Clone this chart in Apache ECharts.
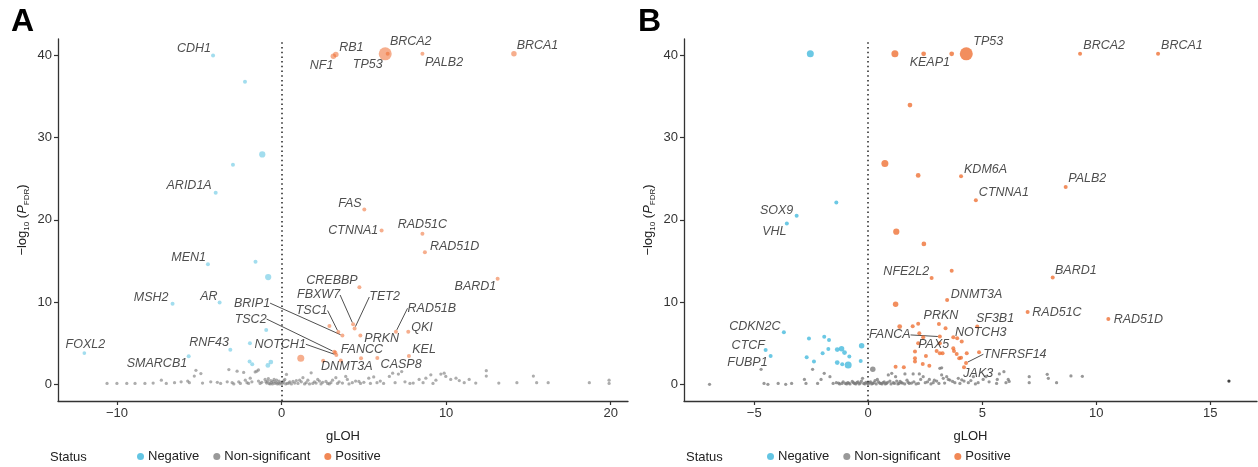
<!DOCTYPE html>
<html><head><meta charset="utf-8">
<script src="https://cdn.jsdelivr.net/npm/echarts@6/dist/echarts.min.js"></script>
<style>html,body{margin:0;padding:0;background:#fff}#c{width:1258px;height:467px}</style>
</head><body><div id="c"></div>
<script>
// ---------- data ----------
const statusNames = ['Negative', 'Non-significant', 'Positive'];
const xTicksA = [-10, 0, 10, 20];
const xTicksB = [-5, 0, 5, 10, 15];
const yTicks = [0, 10, 20, 30, 40];

// rows: [gLOH, -log10(P_FDR), weight, gene]
const A_negative = [
  [-4.16, 40.0, 1, 'CDH1'], [-2.22, 36.8, 1], [-1.17, 27.96, 2.5], [-2.95, 26.7, 1],
  [-4.0, 23.3, 1, 'ARID1A'], [-4.47, 14.6, 1, 'MEN1'], [-1.58, 14.9, 1], [-0.81, 13.05, 2.5],
  [-6.62, 9.8, 1, 'MSH2'], [-3.76, 9.95, 1, 'AR'], [-0.93, 6.6, 1], [-11.98, 3.8, 0.8, 'FOXL2'],
  [-3.11, 4.2, 1, 'RNF43'], [-5.64, 3.4, 1, 'SMARCB1'], [-1.92, 5.0, 1], [-1.94, 2.76, 1],
  [-1.78, 2.44, 1], [-0.83, 2.3, 1.5], [-0.65, 2.7, 1.5]
];
const A_positive = [
  [3.3, 40.1, 2, 'RB1'], [3.15, 39.9, 2, 'NF1'], [6.3, 40.2, 7, 'TP53'], [6.45, 40.2, 1, 'BRCA2'],
  [8.56, 40.2, 1, 'PALB2'], [14.12, 40.2, 2, 'BRCA1'], [5.03, 21.25, 1, 'FAS'], [6.08, 18.7, 1, 'CTNNA1'],
  [8.56, 18.3, 1, 'RAD51C'], [8.71, 16.05, 1, 'RAD51D'], [13.13, 12.84, 1, 'BARD1'], [4.73, 11.8, 1, 'CREBBP'],
  [4.35, 7.3, 1, 'FBXW7'], [4.44, 6.8, 1, 'TET2'], [3.45, 6.35, 1, 'TSC1'], [2.91, 7.1, 1],
  [3.7, 5.93, 1, 'BRIP1'], [4.79, 5.93, 1, 'PRKN'], [6.95, 6.4, 1, 'RAD51B'], [7.7, 6.4, 1, 'QKI'],
  [3.27, 3.86, 1, 'FANCC'], [3.2, 3.95, 1, 'TSC2'], [3.33, 3.57, 1, 'NOTCH1'], [3.6, 2.9, 1, 'DNMT3A'],
  [2.53, 2.88, 1], [4.83, 3.17, 1], [5.82, 3.2, 1, 'CASP8'], [7.74, 3.45, 1, 'KEL'], [1.17, 3.17, 3]
];
const A_nonsig = [
  [-10.6,0.1],[-10,0.1],[-9.4,0.1],[-8.9,0.1],[-8.3,0.1],[-7.8,0.15],[-7.3,0.5],[-7,0.1],[-6.5,0.2],[-6.1,0.3],
  [-5.6,0.2],[-5.7,0.4],[-5.3,1.0],[-5.2,1.7],[-4.9,1.3],[-4.8,0.15],[-4.3,0.3],[-3.9,0.25],[-3.7,0.1],[-3.3,0.3],
  [-3.2,1.8],[-3.0,0.2],[-2.9,0.05],[-2.7,1.6],[-2.6,0.3],[-2.5,0.1],[-2.3,1.45],[-2.2,0.5],[-2.1,0.2],[-2.0,0.1],
  [-1.9,0.75],[-1.8,0.3],[-1.6,1.5],[-1.5,1.6],[-1.4,1.75],[-1.4,0.4],[-1.3,0.1],[-1.2,0.25],[-1.0,0.6],[-0.9,0.15],
  [-0.85,0.4],[-0.7,0.05],[-0.6,0.2],[-0.5,0.35],[-0.4,0.1],[-0.3,0.5],[-0.2,0.15],[-0.1,0.05],[0.1,0.25],[0.2,0.6],
  [0.3,1.2],[0.35,0.1],[0.5,0.3],[0.6,0.05],[0.8,0.15],[0.9,0.45],[1.0,0.1],[1.2,0.3],[1.3,0.8],[1.4,0.05],
  [1.5,0.2],[1.6,0.5],[1.8,1.4],[1.9,0.1],[2.0,0.3],[2.1,0.15],[2.2,0.6],[2.4,0.05],[2.5,0.25],[2.7,0.35],
  [2.8,0.1],[3.0,0.2],[3.1,0.5],[3.3,0.8],[3.4,0.1],[3.5,0.3],[3.7,0.15],[3.9,0.95],[4.0,0.6],[4.1,0.05],
  [4.3,0.2],[4.5,0.4],[4.7,0.35],[4.8,0.1],[5.0,0.25],[5.3,0.75],[5.4,0.1],[5.6,0.9],[5.8,0.2],[6.0,0.4],
  [6.2,0.1],[6.55,0.95],[6.75,1.35],[6.9,0.2],[7.1,1.25],[7.3,1.55],[7.5,0.3],[7.8,0.1],[8.0,0.15],[8.36,0.6],
  [8.6,0.2],[8.77,0.75],[9.07,1.15],[9.2,0.1],[9.38,0.5],[9.68,1.25],[9.88,1.35],[9.98,0.95],[10.28,0.6],[10.6,0.75],
  [10.8,0.45],[11.1,0.2],[11.4,0.6],[11.8,0.15],[12.44,1.66],[12.44,1.0],[13.2,0.15],[14.3,0.2],[15.3,1.0],[15.5,0.2],
  [16.2,0.2],[18.7,0.2],[19.9,0.5],[19.9,0.1],
  [-0.95,0.3],[-0.8,0.7],[-0.75,0.1],[-0.65,0.45],[-0.55,0.05],[-0.45,0.6],[-0.35,0.25],[-0.25,0.05],[-0.15,0.4],[-0.05,0.2],
  [0.05,0.1],[0.15,0.45],[0.25,0.05],[0.45,0.15],[0.7,0.35],[1.1,0.5],[1.7,0.05],[2.3,0.4],[2.9,0.05]
];

const B_negative = [
  [-2.54, 40.2, 3], [-1.40, 22.1, 1], [-3.14, 20.5, 1, 'SOX9'], [-3.57, 19.55, 1, 'VHL'],
  [-3.70, 6.34, 1, 'CDKN2C'], [-4.5, 4.18, 1, 'CTCF'], [-4.28, 3.45, 1, 'FUBP1'], [-2.6, 5.56, 1],
  [-1.93, 5.77, 1], [-1.72, 5.4, 1], [-1.75, 4.3, 1], [-2.0, 3.78, 1], [-2.7, 3.29, 1], [-2.38, 2.76, 1],
  [-1.36, 4.22, 1.5], [-1.17, 4.34, 2], [-1.04, 3.86, 1.5], [-0.83, 3.37, 1], [-1.36, 2.64, 1.5],
  [-1.14, 2.44, 1], [-0.88, 2.35, 3], [-0.29, 4.7, 2], [-0.33, 2.84, 1]
];
const B_positive = [
  [1.17, 40.2, 3], [2.43, 40.2, 1.5], [3.66, 40.2, 1.5, 'KEAP1'], [4.30, 40.2, 7, 'TP53'],
  [9.29, 40.2, 1, 'BRCA2'], [12.71, 40.2, 1, 'BRCA1'], [1.83, 33.97, 1.5], [0.73, 26.87, 3],
  [2.19, 25.4, 1.5], [4.07, 25.3, 1, 'KDM6A'], [4.72, 22.4, 1, 'CTNNA1'], [8.66, 24.0, 1, 'PALB2'],
  [1.23, 18.57, 2.5], [2.44, 17.07, 1.5], [2.78, 12.93, 1, 'NFE2L2'], [3.66, 13.8, 1],
  [3.46, 10.25, 1, 'DNMT3A'], [1.2, 9.75, 2], [8.09, 13.0, 1, 'BARD1'], [6.99, 8.78, 1, 'RAD51C'],
  [10.53, 7.93, 1, 'RAD51D'], [1.38, 7.03, 1.5], [1.95, 7.05, 1], [2.19, 7.38, 1], [3.1, 7.35, 1, 'PRKN'],
  [3.39, 6.83, 1], [4.78, 7.03, 1, 'SF3B1'], [2.24, 6.2, 1], [3.73, 5.73, 1, 'NOTCH3'], [3.9, 5.6, 1],
  [4.1, 5.2, 1], [2.41, 5.73, 1], [2.19, 5.0, 1, 'PAX5'], [3.14, 5.8, 1, 'FANCA'], [3.14, 5.0, 1],
  [2.05, 3.98, 1], [2.53, 3.45, 1], [3.0, 4.06, 1], [3.14, 3.78, 1], [3.26, 3.78, 1], [3.76, 4.06, 1],
  [3.99, 3.17, 1], [4.07, 3.24, 1], [4.32, 3.78, 1], [4.86, 3.9, 1], [2.05, 2.76, 1], [2.39, 2.48, 1],
  [2.68, 2.27, 1], [1.56, 2.07, 1], [1.2, 2.15, 1], [4.2, 2.07, 1, 'JAK3'], [4.29, 2.6, 1, 'TNFRSF14'],
  [2.05, 3.17, 1], [3.73, 4.39, 1], [3.88, 3.7, 1]
];
const B_nonsig = [
  [-6.96,0],[-4.7,1.83],[-4.57,0.1],[-4.4,0],[-3.95,0.1],[-3.62,0],[-3.36,0.1],[-2.8,0.6],[-2.73,0.1],[-2.44,1.83],
  [-2.22,0.1],[-2.07,0.6],[-1.93,1.34],[-1.68,0.93],[-1.54,0.1],[-1.4,0.2],[-1.25,0.05],[-1.1,0.3],[-1.0,0.1],[-0.9,0.2],
  [-0.8,0.05],[-0.7,0.35],[-0.6,0.1],[-0.5,0.2],[-0.4,0.05],[-0.3,0.4],[-0.25,0.73],[-0.2,0.1],[-0.1,0.25],[0,0.05],
  [0.1,0.3],[0.2,0.1],[0.3,0.45],[0.4,0.6],[0.5,0.15],[0.6,0.05],[0.7,0.3],[0.8,0.1],[0.88,1.14],[0.95,0.4],
  [1.03,1.34],[1.1,0.2],[1.2,0.93],[1.3,0.05],[1.4,0.35],[1.5,0.15],[1.61,1.26],[1.7,0.5],[1.8,0.1],[1.97,1.26],
  [2.0,0.3],[2.1,0.05],[2.24,1.26],[2.3,0.6],[2.41,0.93],[2.5,0.2],[2.68,0.6],[2.75,0.05],[2.85,0.2],[3.0,0.4],
  [3.14,1.95],[3.22,1.14],[3.22,2.0],[3.29,0.73],[3.44,0.93],[3.51,0.6],[3.58,0.52],[3.8,0.2],[3.95,0.73],[4.02,0.1],
  [4.2,0.4],[4.39,0.2],[4.61,0.93],[4.82,0.2],[5.04,0.6],[5.16,0.93],[5.63,0.1],[5.66,0.6],[5.75,1.26],[5.95,1.54],
  [6.04,0.2],[6.14,0.6],[6.18,0.35],[7.06,0.93],[7.06,0.2],[7.85,1.22],[7.9,0.73],[8.26,0.2],[8.89,1.02],[9.39,0.98],
  [-1.3,0.15],[-1.15,0.1],[-0.95,0.05],[-0.85,0.15],[-0.65,0.2],[-0.55,0.05],[-0.45,0.3],[-0.35,0.15],[-0.15,0.05],[-0.05,0.15],
  [0.05,0.2],[0.15,0.05],[0.25,0.2],[0.35,0.05],[0.45,0.3],[0.55,0.1],[0.65,0.2],[0.75,0.05],[0.85,0.25],[1.0,0.05],
  [1.15,0.1],[1.25,0.4],[1.35,0.1],[1.45,0.2],[1.6,0.05],[1.75,0.25],[1.9,0.15],[2.2,0.1],[2.6,0.3],[2.9,0.5],
  [3.1,0.1],[3.35,0.15],[3.7,0.35],[4.1,0.55],[4.5,0.45],[4.7,0.05],[5.3,0.3],[0.2,1.83,2]
];
const B_other = [[15.82, 0.4]];

// ---------- presentation ----------
const FONT = '"Liberation Sans", Arial, Helvetica, sans-serif';
const COL = { neg: '#3cb7dc', pos: '#ee6a2c', ns: '#7f7f7f' };
const COL_A = { neg: 'rgba(60,183,220,0.6)', pos: 'rgba(238,106,44,0.68)', ns: 'rgba(127,127,127,0.8)' };
const COL_B = { neg: 'rgba(60,183,220,0.95)', pos: 'rgba(238,106,44,0.95)', ns: 'rgba(120,120,120,0.95)' };
// label placement: [dx, dy, align] from the point centre
const labelPosA = {
  CDH1: [-2, -7, 'right'], ARID1A: [-4, -7, 'right'], MEN1: [-2, -7, 'right'], MSH2: [-4, -6, 'right'],
  AR: [-2, -5.5, 'right'], FOXL2: [1, -9, 'center'], RNF43: [-1.5, -7, 'right'], SMARCB1: [-1.5, 7.5, 'right'],
  RB1: [3.3, -7.6, 'left'], NF1: [0, 9.4, 'right'], BRCA2: [2.2, -12, 'left'], TP53: [-2.6, 11, 'right'],
  PALB2: [2.7, 8.7, 'left'], BRCA1: [2.7, -8.7, 'left'], FAS: [-2.7, -6, 'right'], CTNNA1: [-3.3, 0, 'right'],
  RAD51C: [0, -9.7, 'center'], RAD51D: [5, -6, 'left'], BARD1: [-1.4, 7.7, 'right'], CREBBP: [-1.7, -6.3, 'right'],
  FBXW7: [-13, -29.3, 'right'], TET2: [14.7, -31.4, 'left'], TSC1: [-10.7, -21.6, 'right'],
  BRIP1: [-72.3, -32.4, 'right'], TSC2: [-67.6, -32.8, 'right'], NOTCH1: [-30.5, -10.7, 'right'],
  FANCC: [5.5, -3.3, 'left'], DNMT3A: [6, 6, 'center'], CASP8: [3.3, 6.3, 'left'], PRKN: [4, 2.6, 'left'],
  RAD51B: [11.6, -23.4, 'left'], QKI: [3, -4.4, 'left'], KEL: [3.3, -6.7, 'left']
};
const linesA = ['FBXW7', 'TET2', 'TSC1', 'BRIP1', 'TSC2', 'NOTCH1', 'RAD51B'];
const labelPosB = {
  SOX9: [-3.4, -5.6, 'right'], VHL: [-0.3, 7.7, 'right'], CDKN2C: [-3.3, -5.6, 'right'], CTCF: [-0.7, -4.7, 'right'],
  FUBP1: [-3, 6.7, 'right'], KEAP1: [-1.7, 8.6, 'right'], TP53: [7, -12, 'left'], BRCA2: [3.3, -8.3, 'left'],
  BRCA1: [3, -8.3, 'left'], KDM6A: [3, -6.7, 'left'], CTNNA1: [3, -8, 'left'], PALB2: [2.6, -8, 'left'],
  NFE2L2: [-2.4, -6.6, 'right'], DNMT3A: [3.7, -6, 'left'], BARD1: [2.3, -7, 'left'], RAD51C: [4.7, 0.3, 'left'],
  RAD51D: [5.3, 0, 'left'], PRKN: [2, -8.3, 'center'], SF3B1: [-1.3, -8, 'left'], NOTCH3: [1.7, -4.6, 'left'],
  PAX5: [0, 1, 'left'], FANCA: [-29.3, -1.7, 'right'], TNFRSF14: [17.3, -8.7, 'left'], JAK3: [14.3, 6.2, 'center']
};
const linesB = ['FANCA', 'TNFRSF14'];

function toData(rows, lineSet, w0) {
  return rows.map(function (r) {
    const d = { name: r[3] || '', value: [r[0], r[1], r[2] != null ? r[2] : w0] };
    if (r[3]) {
      d.label = { show: true };
      if (lineSet.indexOf(r[3]) >= 0) d.labelLine = { show: true };
    }
    return d;
  });
}
function makeLayout(pos) {
  return function (p) {
    const o = pos[p.text];
    if (!o) return {};
    const cx = p.rect.x + p.rect.width / 2, cy = p.rect.y + p.rect.height / 2;
    return { x: cx + o[0], y: cy + o[1], align: o[2], verticalAlign: 'middle' };
  };
}
const sizeFn = function (v) { return 2.5 + 1.5 * v[2]; };
const minus = function (v) { return String(v).replace('-', '\u2212'); };

function scatter(name, rows, gi, color, pos, lineSet, w0, z) {
  return {
    type: 'scatter', name: name, xAxisIndex: gi, yAxisIndex: gi, z: z,
    data: toData(rows, lineSet, w0), symbolSize: sizeFn,
    itemStyle: { color: color },
    label: { show: false, formatter: '{b}', fontFamily: FONT, fontStyle: 'italic', fontSize: 12.5, color: '#222' },
    labelLine: { show: false, lineStyle: { color: '#222', width: 0.8 } },
    labelLayout: makeLayout(pos),
    emphasis: { disabled: true }, silent: true
  };
}
function xAxis(gi, min, max, ticks) {
  return {
    type: 'value', gridIndex: gi, min: min, max: max, name: 'gLOH', nameLocation: 'middle', nameGap: 29,
    nameTextStyle: { fontFamily: FONT, fontSize: 13, color: '#222' },
    axisLine: { onZero: false, lineStyle: { color: '#333', width: 1.3 } },
    axisTick: { length: 4, lineStyle: { color: '#333', width: 1.2 }, customValues: ticks },
    axisLabel: { customValues: ticks, formatter: minus, fontFamily: FONT, fontSize: 13, color: '#333', margin: 6 },
    splitLine: { show: false }
  };
}
function yAxis(gi) {
  return {
    type: 'value', gridIndex: gi, min: -2.03, max: 42,
    name: '\u2212log{s|10} ({i|P}{s|FDR})', nameLocation: 'middle', nameGap: 27,
    nameTextStyle: { fontFamily: FONT, fontSize: 13, color: '#222', lineHeight: 18,
      rich: { s: { fontFamily: FONT, fontSize: 8, color: '#222', verticalAlign: 'bottom', lineHeight: 9 },
              i: { fontFamily: FONT, fontSize: 13, fontStyle: 'italic', color: '#222' } } },
    axisLine: { onZero: false, lineStyle: { color: '#333', width: 1.3 } },
    axisTick: { length: 4, lineStyle: { color: '#333', width: 1.2 }, customValues: yTicks },
    axisLabel: { customValues: yTicks, fontFamily: FONT, fontSize: 13, color: '#333', margin: 6 },
    splitLine: { show: false }
  };
}
const zeroLine = {
  silent: true, symbol: ['none', 'none'], label: { show: false },
  lineStyle: { type: [1.5, 3.2], color: '#222', width: 1.5 }, data: [{ xAxis: 0 }]
};
function legend(left) {
  return {
    left: left, top: 450, padding: 0, icon: 'circle', itemWidth: 7, itemHeight: 7, itemGap: 14, selectedMode: false,
    data: [
      { name: statusNames[0], itemStyle: { color: COL.neg } },
      { name: statusNames[1], itemStyle: { color: COL.ns } },
      { name: statusNames[2], itemStyle: { color: COL.pos } }
    ],
    textStyle: { fontFamily: FONT, fontSize: 13, color: '#222', padding: [0, 0, 0, -1] }
  };
}

const sA0 = scatter('Non-significant', A_nonsig, 0, COL_A.ns, labelPosA, linesA, 0.5, 2);
sA0.markLine = zeroLine;
const sB0 = scatter('Non-significant', B_nonsig, 1, COL_B.ns, labelPosB, linesB, 0.5, 2);
sB0.markLine = zeroLine;

const option = {
  animation: false,
  backgroundColor: '#fff',
  grid: [
    { left: 58, right: 630, top: 39, bottom: 66 },
    { left: 684, right: 1, top: 39, bottom: 66 }
  ],
  xAxis: [xAxis(0, -13.58, 21.05, xTicksA), xAxis(1, -8.08, 17.05, xTicksB)],
  yAxis: [yAxis(0), yAxis(1)],
  legend: [legend(137), legend(767)],
  graphic: [
    { type: 'text', left: 11, top: 6, style: { text: 'A', font: 'bold 32px ' + FONT, fill: '#000' } },
    { type: 'text', left: 638, top: 6, style: { text: 'B', font: 'bold 32px ' + FONT, fill: '#000' } },
    { type: 'text', left: 50, top: 451, style: { text: 'Status', font: '13px ' + FONT, fill: '#222' } },
    { type: 'text', left: 686, top: 451, style: { text: 'Status', font: '13px ' + FONT, fill: '#222' } }
  ],
  series: [
    sA0,
    scatter('Negative', A_negative, 0, COL_A.neg, labelPosA, linesA, 1, 3),
    scatter('Positive', A_positive, 0, COL_A.pos, labelPosA, linesA, 1, 3),
    sB0,
    scatter('Negative', B_negative, 1, COL_B.neg, labelPosB, linesB, 1, 3),
    scatter('Positive', B_positive, 1, COL_B.pos, labelPosB, linesB, 1, 3),
    scatter('', B_other, 1, '#111', labelPosB, linesB, 0.5, 3)
  ]
};
const chart = echarts.init(document.getElementById('c'), null, { renderer: 'canvas' });
chart.setOption(option);
</script>
</body></html>
